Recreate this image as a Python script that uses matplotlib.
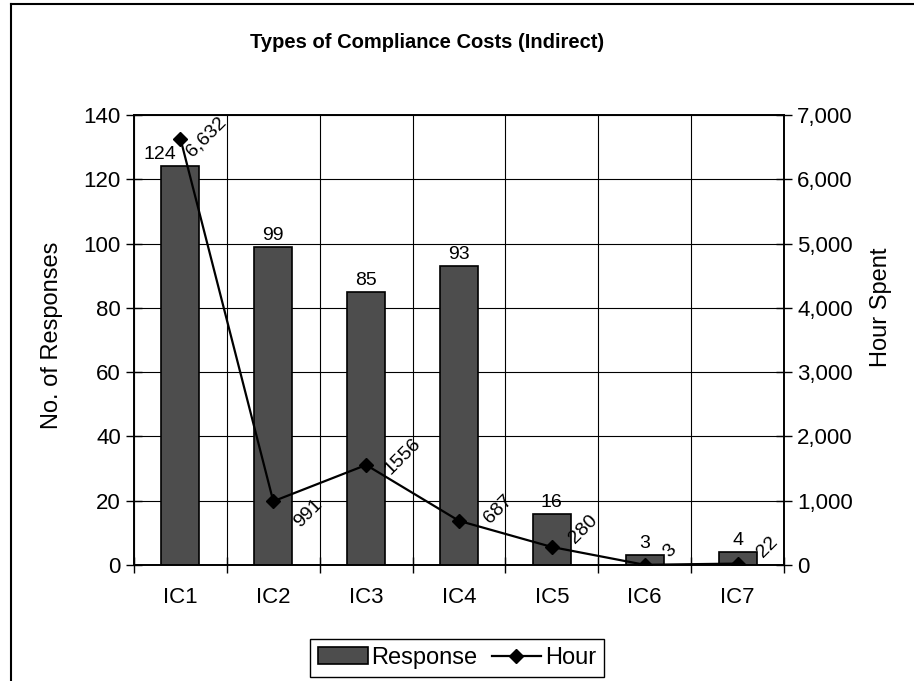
import matplotlib
matplotlib.use("Agg")
import matplotlib.pyplot as plt
from matplotlib.lines import Line2D
from matplotlib.patches import Patch
from matplotlib.ticker import FuncFormatter, FixedLocator
import numpy as np

plt.rcParams['font.family'] = ['Liberation Sans', 'DejaVu Sans']

categories = ["IC1", "IC2", "IC3", "IC4", "IC5", "IC6", "IC7"]
responses = [124, 99, 85, 93, 16, 3, 4]
hours = [6632, 991, 1556, 687, 280, 3, 22]
hour_labels = ["6,632", "991", "1556", "687", "280", "3", "22"]
left_ticks = [0, 20, 40, 60, 80, 100, 120, 140]
right_ticks = [0, 1000, 2000, 3000, 4000, 5000, 6000, 7000]

# label offsets in pixels (style)
hour_label_offsets = [(26, 2), (35, -12), (37, 9), (39, 12), (31, 18), (25, 14), (30, 16)]
bar_label_dx = [-21, 0, 0, 0, 0, 0, 0]

fig = plt.figure(figsize=(9.14, 6.81), dpi=100)
W, H = 914, 681

# outer frame (left, top only visible)
fig.add_artist(Line2D([11 / W, 11 / W], [0, 1 - 4 / H], color='black', lw=1.5,
                      transform=fig.transFigure))
fig.add_artist(Line2D([11 / W, 1.0], [1 - 4 / H, 1 - 4 / H], color='black', lw=1.5,
                      transform=fig.transFigure))

ax = fig.add_axes([134 / W, 1 - 565 / H, 650 / W, 450 / H])
ax2 = ax.twinx()

x = np.arange(len(categories))
bars = ax.bar(x, responses, width=0.41, color='#4d4d4d', edgecolor='black',
              linewidth=1.2, zorder=3)
for xi, v, dx in zip(x, responses, bar_label_dx):
    ax.annotate(str(v), (xi, v), xytext=(dx, 3), textcoords='offset pixels',
                ha='center', va='bottom', fontsize=14)

ax.set_xlim(-0.5, len(categories) - 0.5)
ax.set_ylim(0, 140)
ax.set_yticks(left_ticks)
ax.tick_params(axis='y', direction='inout', length=11, width=1, labelsize=16, pad=4)

# x ticks: boundaries (marks), centers (labels)
ax.xaxis.set_major_locator(FixedLocator(np.arange(len(categories) + 1) - 0.5))
ax.xaxis.set_major_formatter(FuncFormatter(lambda v, p: ""))
ax.xaxis.set_minor_locator(FixedLocator(x))
ax.set_xticklabels(categories, minor=True)
ax.tick_params(axis='x', which='major', direction='inout', length=11, width=1)
ax.tick_params(axis='x', which='minor', length=0, labelsize=16, pad=16)

ax.grid(True, which='major', color='black', linewidth=0.8, zorder=0)
ax.set_axisbelow(True)
for s in ax.spines.values():
    s.set_color('black')
    s.set_linewidth(1.2)

ax.set_ylabel("No. of Responses", fontsize=17)
ax.yaxis.set_label_coords(-0.109, 0.511)

ax2.plot(x, hours, color='black', linewidth=1.6, marker='D', markersize=7, zorder=5)
ax2.set_ylim(0, 7000)
ax2.set_yticks(right_ticks)
ax2.yaxis.set_major_formatter(FuncFormatter(lambda v, p: f"{int(v):,}"))
ax2.tick_params(axis='y', direction='inout', length=11, width=1, labelsize=16, pad=4)
ax2.set_ylabel("Hour Spent", fontsize=17)
ax2.yaxis.set_label_coords(1.133, 0.573)
for s in ax2.spines.values():
    s.set_color('black')
    s.set_linewidth(1.2)

for xi, hv, lab, off in zip(x, hours, hour_labels, hour_label_offsets):
    ax2.annotate(lab, (xi, hv), xytext=off, textcoords='offset pixels',
                 rotation=45, ha='center', va='center', fontsize=14,
                 rotation_mode='anchor')

fig.text(427 / W, 1 - 43 / H, "Types of Compliance Costs (Indirect)",
         ha='center', va='center', fontsize=14.5, fontweight='bold')

handles = [Patch(facecolor='#4d4d4d', edgecolor='black', linewidth=1.2),
           Line2D([], [], color='black', linewidth=1.6, marker='D', markersize=7)]
leg = fig.legend(handles, ["Response", "Hour"], loc='center',
                 bbox_to_anchor=(457 / W, 1 - 658 / H), ncol=2, fontsize=17,
                 frameon=True, fancybox=False, edgecolor='black', framealpha=1,
                 handlelength=2.1, handletextpad=0.15, columnspacing=0.6,
                 borderpad=0.35, borderaxespad=0)
leg.get_frame().set_linewidth(1.0)

fig.savefig("out.png", dpi=100)
